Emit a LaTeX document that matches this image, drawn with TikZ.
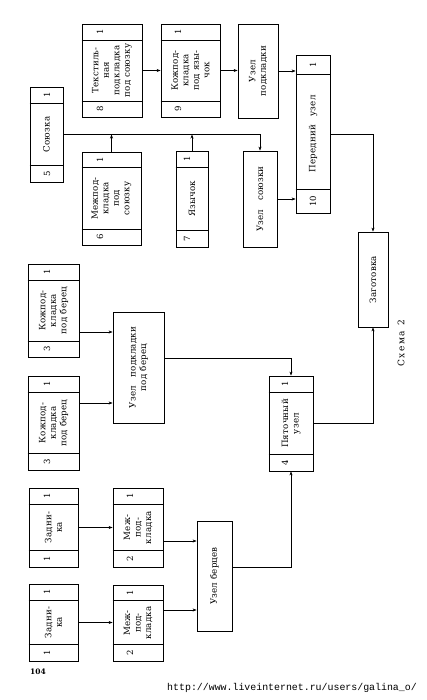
\documentclass[tikz,border=0pt]{standalone}
\usepackage{fontspec}
\setmainfont{DejaVu Serif}
\newfontfamily\urlfont{Liberation Mono}
\newfontfamily\boxfont[LetterSpace=2]{DejaVu Serif}
\usetikzlibrary{arrows.meta,calc}
\tikzset{
  box/.style={draw, line width=0.8pt, inner sep=0pt},
  sepline/.style={line width=0.8pt},
  lbl/.style={rotate=90, align=center, inner sep=0pt, font=\boxfont\fontsize{8.7}{10.5}\selectfont},
  num/.style={rotate=90, inner sep=0pt, font=\fontsize{8.5}{10}\selectfont},
  arr/.style={line width=0.6pt, -{Stealth[length=4pt,width=3pt]}},
  conn/.style={line width=0.6pt}
}
\newcommand\boxat[6]{%
  \pgfmathsetmacro\bw{#4-#2}\pgfmathsetmacro\bh{#5-#3}%
  \pgfmathsetmacro\bx{(#2+#4)/2}\pgfmathsetmacro\by{(#3+#5)/2}%
  \node[box, minimum width=\bw pt, minimum height=\bh pt] (#1) at (\bx,\by) {};
  \node[lbl] (#1-t) at (#1.center) {#6};}
\newcommand\compart[5]{%
  \draw[sepline] (#1.west |- 0,#2) -- (#1.east |- 0,#2);
  \draw[sepline] (#1.west |- 0,#3) -- (#1.east |- 0,#3);
  \node[num] (#1-n1) at ($(#1.north -| #4,0)!0.5!(#4,#2)$) {1};
  \node[num] (#1-n2) at ($(#1.south -| #4,0)!0.5!(#4,#3)$) {#5};}
\begin{document}
\begin{tikzpicture}[x=1pt,y=-1pt]
\useasboundingbox (0,0) rectangle (426,700);
% top group
\boxat{b8}{82}{24}{142}{117}{Текстиль-\\ная\\подкладка\\под союзку}
\compart{b8}{40}{101}{100}{8}
\boxat{b9}{161}{24}{220}{117}{Кожпод-\\кладка\\под язы-\\чок}
\compart{b9}{40}{101}{178}{9}
\boxat{up}{238}{24}{278}{118}{Узел\\подкладки}
\boxat{b5}{30}{87}{63}{182}{Союзка}
\compart{b5}{103}{165}{47}{5}
\boxat{b6}{82}{152}{141}{245}{Межпод-\\кладка\\под\\союзку}
\compart{b6}{167}{229}{100}{6}
\boxat{b7}{176}{151}{208}{247}{Язычок}
\compart{b7}{167}{230}{187}{7}
\boxat{us}{243}{151}{277}{247}{Узел\quad союзки}
\boxat{b10}{296}{55}{330}{213}{Передний\quad узел}
\compart{b10}{74}{189}{313}{10}
\boxat{zag}{358}{232}{388}{327}{Заготовка}
% middle group
\boxat{b3a}{28}{264}{79}{357}{Кожпод-\\кладка\\под берец}
\compart{b3a}{280}{341}{47}{3}
\boxat{b3b}{28}{376}{79}{470}{Кожпод-\\кладка\\под берец}
\compart{b3b}{392}{453}{47}{3}
\boxat{ub}{113}{312}{164}{423}{Узел\quad подкладки\\под берец}
\boxat{b4}{269}{376}{313}{471}{Пяточный\\узел}
\compart{b4}{392}{454}{285}{4}
% bottom group
\boxat{b1a}{29}{488}{78}{567}{Задни-\\ка}
\compart{b1a}{504}{550}{47}{1}
\boxat{b1b}{29}{584}{78}{661}{Задни-\\ка}
\compart{b1b}{600}{644}{47}{1}
\boxat{b2a}{113}{488}{163}{567}{Меж-\\под-\\кладка}
\compart{b2a}{504}{550}{130}{2}
\boxat{b2b}{113}{585}{163}{661}{Меж-\\под-\\кладка}
\compart{b2b}{600}{644}{130}{2}
\boxat{ube}{197}{521}{232}{631}{Узел берцев}
% connectors
\draw[arr] (b8.east) -- (b8.east -| b9.west);
\draw[arr] (b9.east) -- (b9.east -| up.west);
\draw[arr] (up.east) -- (up.east -| b10.west);
\draw[arr] (us.east) -- (us.east -| b10.west);
\draw[arr] (b5.east) -| (us.north);
\draw[arr] (b6.north) -- (b6.north |- b5.east);
\draw[arr] (b7.north) -- (b7.north |- b5.east);
\draw[arr] (b10.east) -| (zag.north);
\draw[arr] (b3a.east |- 0,332) -- (ub.west |- 0,332);
\draw[arr] (b3b.east |- 0,403) -- (ub.west |- 0,403);
\draw[arr] (ub.east |- 0,358) -| (b4.north);
\draw[arr] (ube.east |- 0,567) -| (b4.south);
\draw[arr] (b4.east) -| (zag.south);
\draw[arr] (b1a.east) -- (b1a.east -| b2a.west);
\draw[arr] (b1b.east) -- (b1b.east -| b2b.west);
\draw[arr] (b2a.east |- 0,541) -- (ube.west |- 0,541);
\draw[arr] (b2b.east |- 0,610) -- (ube.west |- 0,610);
% texts
\node[rotate=90, font=\fontsize{9}{10}\selectfont] (cap) at (401,343) {С\,х\,е\,м\,а\ \ 2};
\node[font=\fontsize{7.5}{8}\selectfont\bfseries] (pg) at (38,672) {104};
\node[font=\urlfont\fontsize{9.9}{11}\selectfont, inner sep=0pt] (url) at (292,688) {http://www.liveinternet.ru/users/galina\_o/};
\end{tikzpicture}
\end{document}
